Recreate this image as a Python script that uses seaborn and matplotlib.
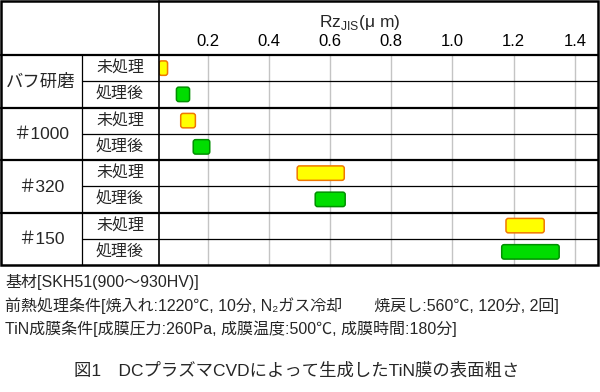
import numpy as np
import pandas as pd
import seaborn as sns
import matplotlib.pyplot as plt
from matplotlib.patches import FancyBboxPatch, Rectangle

# data
groups = ["バフ研磨", "＃1000", "＃320", "＃150"]
states = ["未処理", "処理後"]
rz_min = [0.040, 0.097, 0.111, 0.152, 0.492, 0.551, 1.175, 1.161]
rz_max = [0.068, 0.140, 0.159, 0.206, 0.646, 0.649, 1.300, 1.349]
ticks = [0.2, 0.4, 0.6, 0.8, 1.0, 1.2, 1.4]
axis_title = r"Rz$_\mathregular{JIS}$(μ m)"
notes = [
    "基材[SKH51(900～930HV)]",
    "前熱処理条件[焼入れ:1220℃, 10分, N₂ガス冷却　　焼戻し:560℃, 120分, 2回]",
    "TiN成膜条件[成膜圧力:260Pa, 成膜温度:500℃, 成膜時間:180分]",
]
fig_title = "図1　DCプラズマCVDによって生成したTiN膜の表面粗さ"

fill = {"未処理": "#ffff00", "処理後": "#00dd00"}
edge = {"未処理": "#f07800", "処理後": "#009000"}

df = pd.DataFrame({
    "row": [f"{g}_{s}" for g in groups for s in states],
    "state": states * len(groups),
    "lo": rz_min,
    "hi": rz_max,
})

sns.set_theme(style="white")
plt.rcParams['font.family'] = ['Liberation Sans', 'Noto Sans CJK JP', 'DejaVu Sans']

W, H = 600, 392
top, bot, x0, x1, xc = 55, 265, 159, 598, 82
rowh = (bot - top) / 8

fig = plt.figure(figsize=(6, 3.92), dpi=100)
ax = fig.add_axes([x0 / W, 1 - bot / H, (x1 - x0) / W, (bot - top) / H])

sns.barplot(data=df, x="hi", y="row", hue="state", palette=fill, dodge=False,
            width=0.55, saturation=1, legend=False, ax=ax)

xlim = (0.04, 1.476)
ax.set_xlim(xlim)
ax.set_ylim(7.5, -0.5)
asp = (8 / (bot - top)) / ((xlim[1] - xlim[0]) / (x1 - x0))

# turn the bars into rounded floating boxes
for p in list(ax.patches):
    y, h = p.get_y(), p.get_height()
    i = int(round(y + h / 2))
    st = df["state"][i]
    lo, hi = df["lo"][i], df["hi"][i]
    p.remove()
    ax.add_patch(FancyBboxPatch((lo, y), hi - lo, h,
                                boxstyle="round,pad=0,rounding_size=0.008",
                                mutation_aspect=asp, fc=fill[st], ec=edge[st],
                                lw=1.1, zorder=3))

ax.set_xticks(ticks)
ax.set_xticklabels([f"{t:.1f}" for t in ticks])
ax.xaxis.tick_top()
ax.tick_params(axis="x", length=0, pad=4, labelsize=12, colors="black")
ax.set_yticks([])
ax.set_xlabel("")
ax.set_ylabel("")
ax.grid(axis="x", color="#c4c4c4", lw=1)
ax.set_axisbelow(True)
for s in ax.spines.values():
    s.set_visible(False)

# table frame and labels
bg = fig.add_axes([0, 0, 1, 1], zorder=5)
bg.set_xlim(0, W)
bg.set_ylim(H, 0)
bg.axis("off")
bg.patch.set_alpha(0)

bg.add_patch(Rectangle((1, 1), 597, bot - 1, fill=False, ec="black", lw=1.8))
bg.plot([1, 598], [top, top], color="black", lw=1.6)
for k in range(1, 8):
    yy = top + k * rowh
    if k % 2 == 0:
        bg.plot([1, 598], [yy, yy], color="black", lw=1.6)
    else:
        bg.plot([xc, 598], [yy, yy], color="black", lw=0.9)
bg.plot([xc, xc], [top, bot], color="black", lw=0.9)
bg.plot([x0, x0], [1, bot], color="black", lw=1.2)

for g, name in enumerate(groups):
    yy = top + (2 * g + 1) * rowh
    bg.text(41, yy + 1, name, ha="center", va="center", fontsize=12.5)
    for j, s in enumerate(states):
        bg.text(120, top + (2 * g + j + 0.5) * rowh, s, ha="center",
                va="center", fontsize=11.5)

bg.text(319, 22, axis_title, ha="left", va="center", fontsize=12.5)

for k, line in enumerate(notes):
    bg.text(5, 282 + k * 23.5, line, ha="left", va="center", fontsize=11.5)
bg.text(297, 371, fig_title, ha="center", va="center", fontsize=12.5)

fig.savefig("out.png", dpi=100)
